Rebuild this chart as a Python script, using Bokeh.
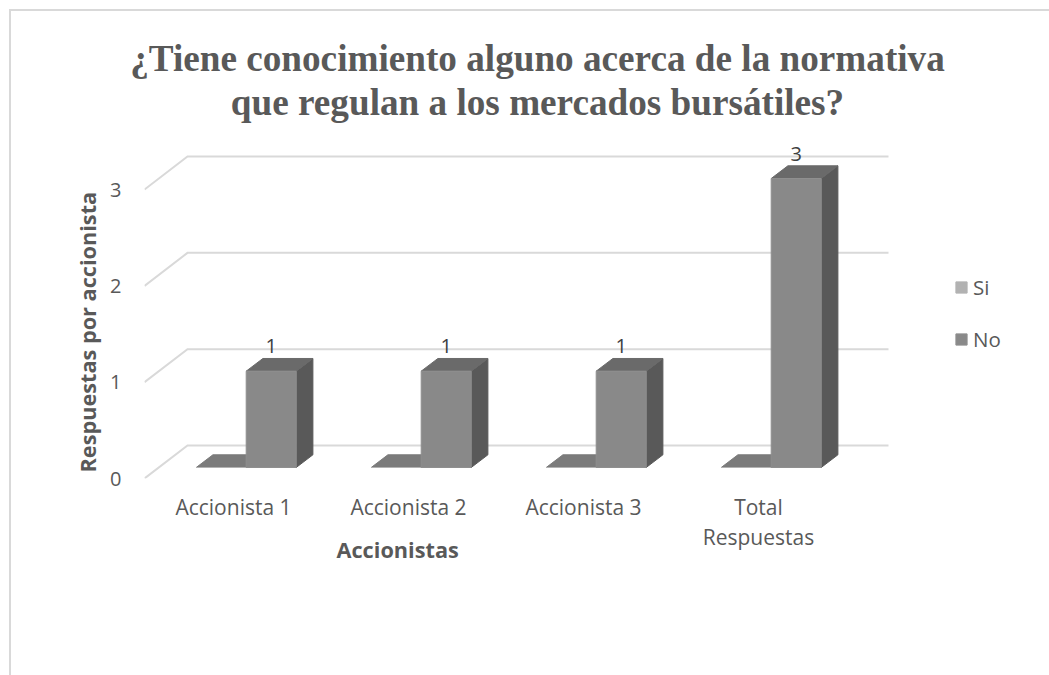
from bokeh.plotting import figure
from bokeh.core.properties import value
from bokeh.embed import file_html
from bokeh.resources import INLINE
from bokeh.models import (Range1d, FixedTicker, Legend, LegendItem, LabelSet,
                          ColumnDataSource, Title)

# --- data ---
categories = ["Accionista 1", "Accionista 2", "Accionista 3", "Total\nRespuestas"]
si_values = [0, 0, 0, 0]
no_values = [1, 1, 1, 3]
y_ticks = [0, 1, 2, 3]
series_names = ["Si", "No"]
title_lines = ["¿Tiene conocimiento alguno acerca de la normativa",
               "que regulan a los mercados bursátiles?"]
x_title = "Accionistas"
y_title = "Respuestas por accionista"

# --- layout constants (pixels on the page) ---
OX, OY = 11, 11   # canvas origin on the page
W, H = 1049 - OX, 675 - OY
F_L, F_R, F_T, F_B = 144, 930, 127, 478   # frame edges
PX_X = 175.0      # px per category
PX_Y = 96.33      # px per value unit
X0 = 233.0        # px of first category centre

def dx(px):
    return px / PX_X

def dy(px):
    return px / PX_Y

BAR_W = dx(50)
SI_OFF = dx(195.7 - X0)
NO_OFF = dx(245.7 - X0)
BASE = dy(478 - 467)       # bar front bottom above the floor's front edge
DEPTH_X, DEPTH_Y = dx(16.7), dy(12.7)
WALL_X, WALL_Y = dx(43), dy(33)
WALL_END = dx(888 - F_L)

x_start = (F_L - X0) / PX_X
x_end = (F_R - X0) / PX_X
y_start = 0
y_end = (F_B - F_T) / PX_Y

p = figure(width=W, height=H, output_backend="svg", toolbar_location=None,
           x_range=Range1d(x_start, x_end), y_range=Range1d(y_start, y_end),
           frame_width=F_R - F_L, frame_height=F_B - F_T,
           min_border_left=F_L - OX, min_border_right=OX + W - F_R,
           min_border_bottom=OY + H - F_B, min_border_top=F_T - OY,
           styles={"margin": "9px 0 0 9px",
                   "border-top": "2px solid #D9D9D9", "border-left": "2px solid #D9D9D9"})
p.outline_line_color = None
p.background_fill_color = "white"
p.border_fill_color = "white"
p.grid.visible = False

title_style = dict(align="center", text_font="Liberation Serif", text_font_size="37.2px",
                   text_font_style="bold", text_color="#595959")
p.title = Title(text=title_lines[0], standoff=-8, **title_style)
p.add_layout(Title(text=title_lines[1], standoff=10, **title_style), "above")

# gridlines on floor/back walls
gx, gy = [], []
for v in y_ticks:
    gx.append([x_start, x_start + WALL_X, x_start + WALL_END])
    gy.append([v, v + WALL_Y, v + WALL_Y])
p.multi_line(gx, gy, line_color="#D9D9D9", line_width=2, line_join="miter")

def bar_faces(offset, values):
    front_x, front_y, top_x, top_y, side_x, side_y = [], [], [], [], [], []
    for i, v in enumerate(values):
        l = i + offset
        r = l + BAR_W
        b = BASE
        t = BASE + v
        front_x.append([l, r, r, l]); front_y.append([b, b, t, t])
        top_x.append([l, r, r + DEPTH_X, l + DEPTH_X]); top_y.append([t, t, t + DEPTH_Y, t + DEPTH_Y])
        side_x.append([r, r + DEPTH_X, r + DEPTH_X, r]); side_y.append([b, b + DEPTH_Y, t + DEPTH_Y, t])
    return front_x, front_y, top_x, top_y, side_x, side_y

# Si series (zero height)
fx, fy, tx, ty, sx, sy = bar_faces(SI_OFF, si_values)
p.patches(tx, ty, fill_color="#7B7B7B", line_color="#7B7B7B", line_width=1)
r_si = p.patches(fx, fy, fill_color="#B2B2B2", line_color="#B2B2B2", line_width=1)

# No series
fx, fy, tx, ty, sx, sy = bar_faces(NO_OFF, no_values)
p.patches(sx, sy, fill_color="#595959", line_color="#595959", line_width=1)
p.patches(tx, ty, fill_color="#6A6A6A", line_color="#6A6A6A", line_width=1)
r_no = p.patches(fx, fy, fill_color="#898989", line_color="#8F8F8F", line_width=1)

# data labels
src = ColumnDataSource(dict(
    x=[i + NO_OFF + BAR_W / 2 for i in range(len(no_values))],
    y=[v + BASE for v in no_values],
    t=[str(v) for v in no_values]))
p.add_layout(LabelSet(x="x", y="y", text="t", source=src, text_font=value("Open Sans"),
                      text_font_size=value("20px"), text_color=value("#404040"),
                      text_align=value("center"), text_baseline=value("bottom"), y_offset=18))

# axes
xa = p.xaxis[0]
xa.ticker = FixedTicker(ticks=list(range(len(categories))))
xa.major_label_overrides = {i: c for i, c in enumerate(categories)}
xa.axis_line_color = None
xa.major_tick_line_color = None
xa.minor_tick_line_color = None
xa.major_label_text_font = "Open Sans"
xa.major_label_text_font_size = "21px"
xa.major_label_text_color = "#595959"
xa.major_label_text_line_height = 1.08
xa.major_label_standoff = 8

ya = p.yaxis[0]
ya.ticker = FixedTicker(ticks=y_ticks)
ya.axis_line_color = None
ya.major_tick_line_color = None
ya.minor_tick_line_color = None
ya.major_label_text_font = "Open Sans"
ya.major_label_text_font_size = "20px"
ya.major_label_text_color = "#595959"
ya.major_label_standoff = 17

# axis titles sit off-centre, so they are side titles with an offset along the edge
axis_title_style = dict(align="left", text_font="Open Sans", text_font_size="21.7px",
                        text_font_style="bold", text_color="#595959")
p.add_layout(Title(text=x_title, offset=336 - F_L, standoff=-38, vertical_align="top",
                   **axis_title_style), "below")
p.add_layout(Title(text=y_title, offset=6, standoff=12, **axis_title_style), "left")

legend = Legend(items=[LegendItem(label=series_names[0], renderers=[r_si]),
                       LegendItem(label=series_names[1], renderers=[r_no])],
                location=(24, 125), orientation="vertical", border_line_color=None,
                background_fill_alpha=0, glyph_width=14, glyph_height=14, spacing=24,
                label_text_font="Open Sans", label_text_font_size="20.5px",
                label_text_color="#595959", label_standoff=5, margin=0, padding=0)
p.add_layout(legend, "right")

open("out.html", "w").write(file_html(p, INLINE))
